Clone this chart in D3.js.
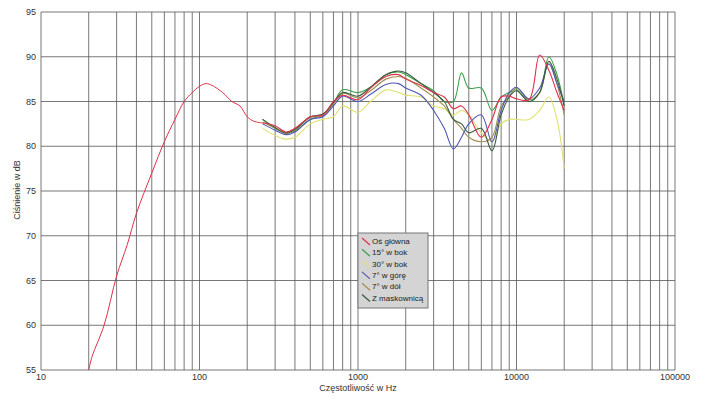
<!DOCTYPE html>
<html><head><meta charset="utf-8">
<script src="https://cdn.jsdelivr.net/npm/d3@7"></script>
<style>body{margin:0;background:#fff}svg{font-family:"Liberation Sans",Arial,sans-serif}</style>
</head><body><svg id="chart" width="705" height="403"></svg>
<script>
const freqs = [250,300,350,400,500,600,700,800,1000,1200,1500,1800,2000,2500,3000,3500,4000,4500,5000,6000,7000,8000,9000,10000,12000,14000,16000,18000,20000];
const bassFreqs = [20,21,25,30,35,40,50,60,70,80,90,100,110,120,140,160,180,200,220,250];
const bassValues = [55,56.5,60,65.5,69,72.5,77,80.5,83,85,86,86.7,87,86.8,86,85,84.5,83.3,82.8,82.6];
const series = [
  {name: "Oś główna", color: "#e0304a", values: [82.6,82.3,81.6,82,83.3,83.5,85,85.7,85.2,86.5,87.8,88,87.5,86.8,86,85.5,84.2,84.5,83.5,81,83,85.5,85.6,85.3,85.2,90.2,88.5,86,84]},
  {name: "15° w bok", color: "#3aa04a", values: [83,82,81.5,81.7,83,83.5,84.8,86.3,86,86.6,88,88.3,88,87,86.2,85,85,88.2,86.5,86.5,84,85.5,86,86.3,85,86,90,88,84.5]},
  {name: "30° w bok", color: "#e0e070", values: [82,81.2,80.8,81,82.5,83,83.3,84.5,83.8,85,86.3,86,85.7,85.5,84.5,84.2,83.5,84,83.5,81.5,80.5,82.5,83,83,83,84,85.5,83,77.5]},
  {name: "7° w górę", color: "#5058b0", values: [82.5,81.8,81.3,81.6,83,83.3,84.5,85.6,85,85.8,86.9,87,86.5,85.7,84,82,79.7,81,82.5,83.5,80.5,84,86,86.6,85.3,86.5,89.2,87,85]},
  {name: "7° w dół", color: "#a09050", values: [82.7,82,81.4,81.8,83.2,83.4,84.7,85.9,85.4,86.2,87.5,87.8,87.6,86.5,85.5,84.5,83,82,81,80.5,81,84.5,85.6,86.5,85.2,86,89.5,87,83.5]},
  {name: "Z maskownicą", color: "#3a5a40", values: [83,82.1,81.5,81.9,83.3,83.6,84.9,86,85.6,86.6,88,88.4,88.2,87,86,85,83,82.5,81.5,82,79.5,83.5,85.5,86.2,85,86,89.5,87.5,84.5]}
];
const yTicks = [55,60,65,70,75,80,85,90,95];
const xTicks = [10,100,1000,10000,100000];

const svg = d3.select('#chart');
const x = d3.scaleLog().domain([10,100000]).range([41,675]);
const y = d3.scaleLinear().domain([55,95]).range([370,12]);

// grid
const minor = [];
for (let d = 10; d < 100000; d *= 10) for (let k = 1; k <= 9; k++) minor.push(d*k);
minor.push(100000);
svg.selectAll('.vg').data(minor).join('line')
  .attr('x1', d => x(d)).attr('x2', d => x(d)).attr('y1', y(95)).attr('y2', y(55))
  .attr('stroke', '#555').attr('stroke-width', 0.8);
svg.selectAll('.hg').data(yTicks).join('line')
  .attr('x1', x(10)).attr('x2', x(100000)).attr('y1', d => y(d)).attr('y2', d => y(d))
  .attr('stroke', '#555').attr('stroke-width', 0.8);

svg.selectAll('.yl').data(yTicks).join('text')
  .attr('x', 36).attr('y', d => y(d) + 3).attr('text-anchor', 'end')
  .attr('font-size', 9).attr('fill', '#333').text(d => d);
svg.selectAll('.xl').data(xTicks).join('text')
  .attr('x', d => x(d)).attr('y', 380).attr('text-anchor', 'middle')
  .attr('font-size', 9).attr('fill', '#333').text(d => d);

svg.append('text').attr('x', 358).attr('y', 391).attr('text-anchor', 'middle')
  .attr('font-size', 9).attr('fill', '#333').text('Częstotliwość w Hz');
svg.append('text').attr('transform', 'translate(20,190) rotate(-90)').attr('text-anchor', 'middle')
  .attr('font-size', 9).attr('fill', '#333').text('Ciśnienie w dB');

const line = d3.line().x(d => x(d[0])).y(d => y(d[1])).curve(d3.curveCatmullRom);
svg.append('path').datum(bassFreqs.map((f, i) => [f, bassValues[i]]))
  .attr('d', line).attr('fill', 'none').attr('stroke', series[0].color).attr('stroke-width', 1);
[2,1,4,3,5,0].forEach(i => {
  const s = series[i];
  svg.append('path').datum(freqs.map((f, j) => [f, s.values[j]]))
    .attr('d', line).attr('fill', 'none').attr('stroke', s.color).attr('stroke-width', 1.1);
});

// legend
const lg = svg.append('g').attr('transform', 'translate(358,233)');
lg.append('rect').attr('width', 70).attr('height', 75).attr('fill', '#d4d4d4').attr('stroke', '#777');
series.forEach((s, i) => {
  const g = lg.append('g').attr('transform', `translate(4,${8 + i*11.3})`);
  g.append('line').attr('x1', 0).attr('y1', -3).attr('x2', 8).attr('y2', 4).attr('stroke', s.color).attr('stroke-width', 1.2);
  g.append('text').attr('x', 10).attr('y', 3).attr('font-size', 8).attr('fill', '#222').text(s.name);
});
</script></body></html>
